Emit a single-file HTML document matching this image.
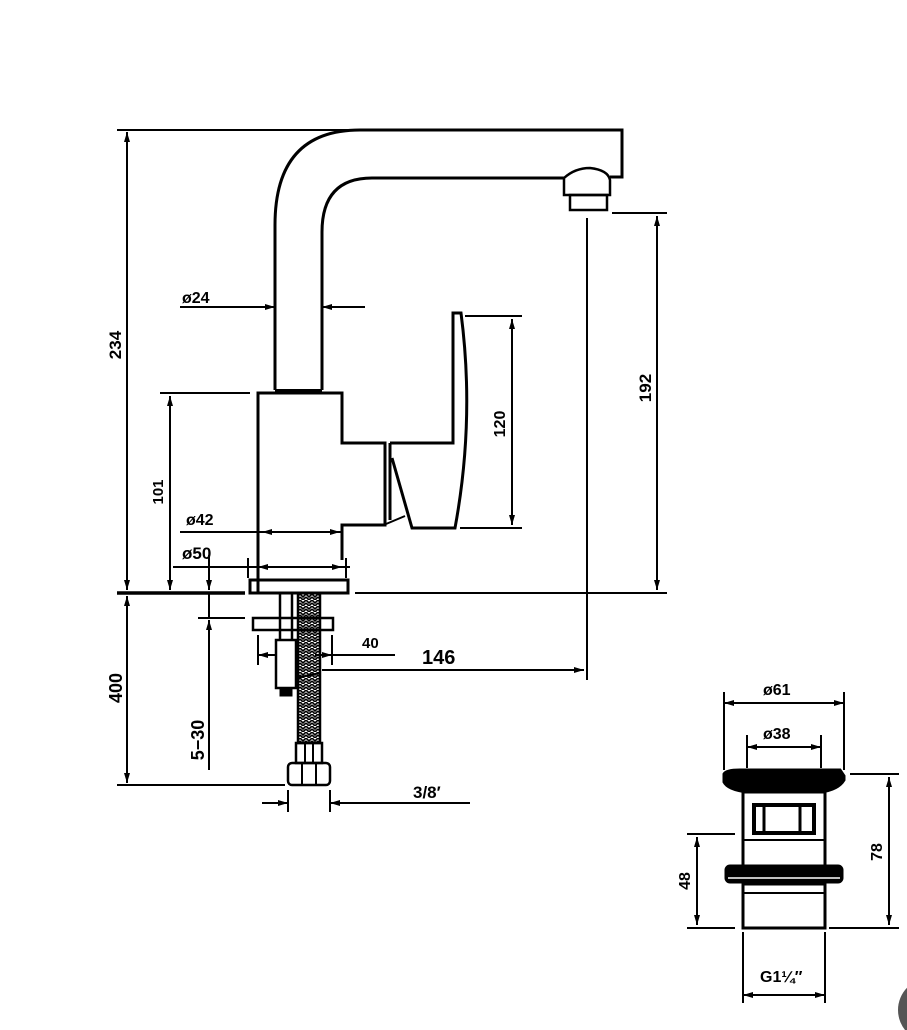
<!DOCTYPE html>
<html><head><style>html,body{margin:0;padding:0;background:#fff}svg{display:block}text{font-family:"Liberation Sans",sans-serif;font-weight:bold;fill:#000}</style></head>
<body>
<svg width="907" height="1030" viewBox="0 0 907 1030" xmlns="http://www.w3.org/2000/svg">
<defs>
<marker id="a" viewBox="0 0 10 6" refX="10" refY="3" markerWidth="10" markerHeight="6" orient="auto-start-reverse" markerUnits="userSpaceOnUse"><path d="M0,0 L10,3 L0,6 z" fill="#000"/></marker>
<pattern id="h" width="6" height="6" patternUnits="userSpaceOnUse"><path d="M0,0 L3,3 L6,0 M0,3 L3,6 L6,3" stroke="#000" stroke-width="1.6" fill="none"/></pattern>
</defs>
<g fill="none" stroke="#000" stroke-width="3">
<path d="M275,390 V225 Q275,130 360,130 H622 V177 H610"/>
<path d="M322,390 V232 Q322,178 372,178 H564"/>
<path d="M564,195 V178 Q575,168 590,168 Q608,170 610,180 V195 Z" stroke-width="2.5"/>
<rect x="570" y="195" width="37" height="15" stroke-width="2.5"/>
<path d="M258,593 V393 H342 V443 H385 V525 H342 V560"/>
<line x1="275" y1="391" x2="322" y2="391" stroke-width="4"/>
<path d="M390,443 H453 V313 H461 Q475,420 455,528 H412 L392,458" />
<line x1="390" y1="443" x2="390" y2="520"/>
<line x1="386" y1="524" x2="405" y2="516" stroke-width="2"/>
<rect x="250" y="580" width="98" height="13"/>
<line x1="280" y1="593" x2="280" y2="640" stroke-width="2.5"/>
<line x1="292" y1="593" x2="292" y2="640" stroke-width="2.5"/>
<rect x="253" y="618" width="80" height="12" stroke-width="2.5"/>
<rect x="276" y="640" width="20" height="48" stroke-width="2.5"/>
<rect x="280" y="688" width="12" height="8" fill="#000" stroke-width="1"/>
<rect x="298" y="593" width="22" height="150" fill="url(#h)" stroke-width="2.5"/>
<line x1="296" y1="678" x2="320" y2="673" stroke-width="2"/>
<rect x="296" y="743" width="26" height="20" stroke-width="2.5"/>
<line x1="305" y1="743" x2="305" y2="763" stroke-width="2"/><line x1="313" y1="743" x2="313" y2="763" stroke-width="2"/>
<rect x="288" y="763" width="42" height="22" rx="4" stroke-width="2.5"/>
<line x1="302" y1="763" x2="302" y2="785" stroke-width="2"/><line x1="316" y1="763" x2="316" y2="785" stroke-width="2"/>
</g>
<g fill="none" stroke="#000" stroke-width="2">
<line x1="117" y1="130" x2="360" y2="130"/>
<line x1="127" y1="132" x2="127" y2="590" marker-start="url(#a)" marker-end="url(#a)"/>
<line x1="117" y1="593" x2="245" y2="593" stroke-width="3.5"/>
<line x1="355" y1="593" x2="667" y2="593"/>
<line x1="127" y1="596" x2="127" y2="783" marker-start="url(#a)" marker-end="url(#a)"/>
<line x1="117" y1="785" x2="285" y2="785"/>
<line x1="160" y1="393" x2="250" y2="393"/>
<line x1="170" y1="396" x2="170" y2="590" marker-start="url(#a)" marker-end="url(#a)"/>
<line x1="180" y1="307" x2="275" y2="307" marker-end="url(#a)"/>
<line x1="322" y1="307" x2="365" y2="307" marker-start="url(#a)"/>
<line x1="180" y1="532" x2="342" y2="532"/>
<line x1="262" y1="532" x2="290" y2="532" marker-start="url(#a)"/>
<line x1="312" y1="532" x2="340" y2="532" marker-end="url(#a)"/>
<line x1="173" y1="567" x2="350" y2="567"/>
<line x1="258" y1="567" x2="285" y2="567" marker-start="url(#a)"/>
<line x1="318" y1="567" x2="342" y2="567" marker-end="url(#a)"/>
<line x1="248" y1="558" x2="248" y2="578"/><line x1="346" y1="558" x2="346" y2="578"/>
<line x1="209" y1="555" x2="209" y2="590" marker-end="url(#a)"/>
<line x1="209" y1="593" x2="209" y2="618"/>
<line x1="209" y1="770" x2="209" y2="620" marker-end="url(#a)"/>
<line x1="198" y1="618" x2="245" y2="618"/>
<line x1="465" y1="316" x2="522" y2="316"/>
<line x1="460" y1="528" x2="522" y2="528"/>
<line x1="512" y1="319" x2="512" y2="525" marker-start="url(#a)" marker-end="url(#a)"/>
<line x1="612" y1="213" x2="667" y2="213"/>
<line x1="657" y1="216" x2="657" y2="590" marker-start="url(#a)" marker-end="url(#a)"/>
<line x1="587" y1="218" x2="587" y2="680"/>
<line x1="322" y1="670" x2="584" y2="670" marker-end="url(#a)"/>
<line x1="258" y1="635" x2="258" y2="665"/><line x1="332" y1="635" x2="332" y2="665"/>
<line x1="258" y1="655" x2="275" y2="655" marker-start="url(#a)"/>
<line x1="315" y1="655" x2="395" y2="655"/>
<line x1="315" y1="655" x2="332" y2="655" marker-end="url(#a)"/>
<line x1="288" y1="790" x2="288" y2="812"/><line x1="330" y1="790" x2="330" y2="812"/>
<line x1="262" y1="803" x2="288" y2="803" marker-end="url(#a)"/>
<line x1="470" y1="803" x2="330" y2="803" marker-end="url(#a)"/>
</g>
<text x="182" y="303" font-size="16">ø24</text>
<text x="186" y="525" font-size="16">ø42</text>
<text x="182" y="559" font-size="17" font-weight="normal">ø50</text>
<text x="362" y="648" font-size="15">40</text>
<text x="422" y="664" font-size="20" font-weight="normal">146</text>
<text x="413" y="798" font-size="17">3/8′</text>
<text transform="translate(121,345) rotate(-90)" font-size="17" text-anchor="middle">234</text>
<text transform="translate(163,492) rotate(-90)" font-size="15" text-anchor="middle">101</text>
<text transform="translate(505,424) rotate(-90)" font-size="16" text-anchor="middle">120</text>
<text transform="translate(651,388) rotate(-90)" font-size="17" text-anchor="middle">192</text>
<text transform="translate(122,688) rotate(-90)" font-size="18" font-weight="normal" text-anchor="middle">400</text>
<text transform="translate(204,740) rotate(-90)" font-size="18" font-weight="normal" text-anchor="middle">5−30</text>
<g fill="none" stroke="#000" stroke-width="2">
<line x1="724" y1="692" x2="724" y2="770"/><line x1="844" y1="692" x2="844" y2="770"/>
<line x1="724" y1="703" x2="844" y2="703" marker-start="url(#a)" marker-end="url(#a)"/>
<line x1="747" y1="735" x2="747" y2="768"/><line x1="821" y1="735" x2="821" y2="768"/>
<line x1="747" y1="747" x2="821" y2="747" marker-start="url(#a)" marker-end="url(#a)"/>
<line x1="850" y1="774" x2="899" y2="774"/><line x1="829" y1="928" x2="899" y2="928"/>
<line x1="889" y1="777" x2="889" y2="925" marker-start="url(#a)" marker-end="url(#a)"/>
<line x1="687" y1="834" x2="735" y2="834"/><line x1="687" y1="928" x2="735" y2="928"/>
<line x1="697" y1="837" x2="697" y2="925" marker-start="url(#a)" marker-end="url(#a)"/>
<line x1="743" y1="932" x2="743" y2="1003"/><line x1="825" y1="932" x2="825" y2="1003"/>
<line x1="743" y1="995" x2="825" y2="995" marker-start="url(#a)" marker-end="url(#a)"/>
</g>
<g stroke="#000" stroke-width="3">
<path d="M724,774 Q726,770 740,770 H840 L844,776 V780 Q838,790 820,792 H748 Q728,790 724,782 Z" fill="#000"/>
<rect x="743" y="792" width="82" height="78" fill="none"/>
<rect x="754" y="805" width="60" height="28" fill="none" stroke-width="4"/>
<line x1="764" y1="805" x2="764" y2="833"/><line x1="800" y1="805" x2="800" y2="833"/>
<line x1="743" y1="840" x2="825" y2="840" stroke-width="2"/>
<rect x="726" y="866" width="116" height="16" rx="4" fill="#000"/>
<line x1="728" y1="878" x2="840" y2="878" stroke="#fff" stroke-width="1.5"/>
<rect x="743" y="884" width="82" height="44" fill="none"/>
<line x1="743" y1="893" x2="825" y2="893" stroke-width="2"/>
</g>
<text x="763" y="695" font-size="16">ø61</text>
<text x="763" y="739" font-size="16">ø38</text>
<text x="760" y="982" font-size="16">G1¼″</text>
<text transform="translate(882,852) rotate(-90)" font-size="16" text-anchor="middle">78</text>
<text transform="translate(690,881) rotate(-90)" font-size="16" text-anchor="middle">48</text>
<circle cx="930" cy="1010" r="32" fill="#555"/>
</svg>
</body></html>
